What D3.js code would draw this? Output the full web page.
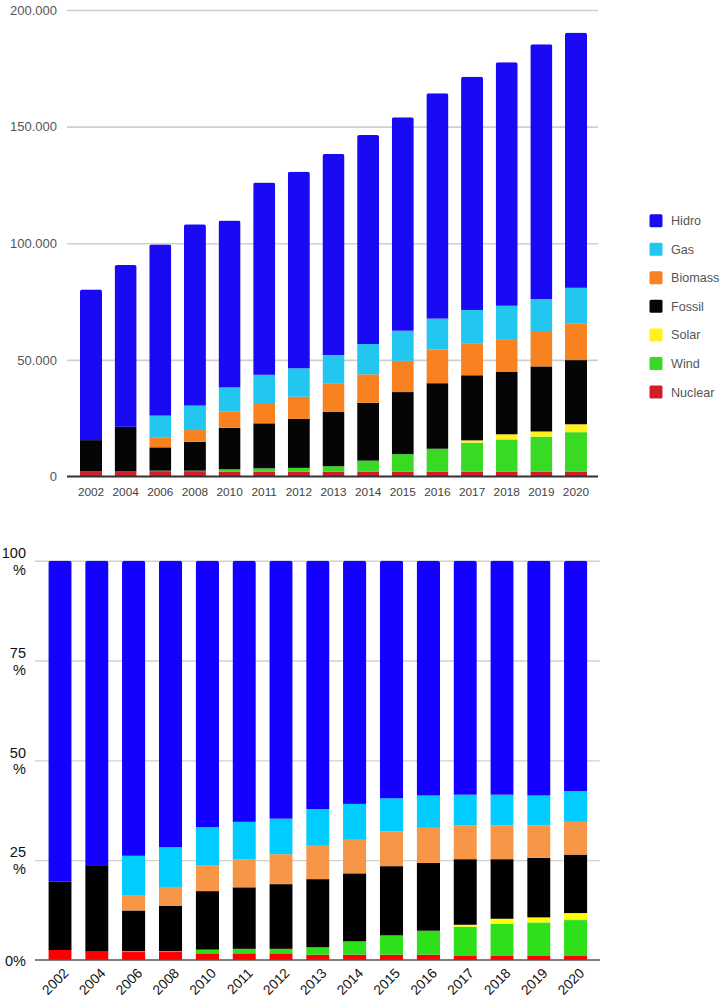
<!DOCTYPE html>
<html>
<head>
<meta charset="utf-8">
<script src="https://cdn.jsdelivr.net/npm/d3@7/dist/d3.min.js"></script>
<style>
  html, body { margin: 0; padding: 0; background: #fff; }
  svg { display: block; font-family: "Liberation Sans", Arial, Helvetica, sans-serif; }
</style>
</head>
<body>
<svg id="chart" width="724" height="1000"></svg>
<script>
// ---------- DATA ----------
const years = ["2002","2004","2006","2008","2010","2011","2012","2013","2014","2015","2016","2017","2018","2019","2020"];
const seriesNames = ["Nuclear","Wind","Solar","Fossil","Biomass","Gas","Hidro"]; // stack order bottom -> top
const legendOrder = ["Hidro","Gas","Biomass","Fossil","Solar","Wind","Nuclear"];

// Top chart: absolute generation
const nuclearTop = [2300,2300,2300,2300,2000,2000,2000,2000,2000,2000,2000,2000,2000,2000,2000];
const windTop    = [0,0,200,200,1100,1500,1700,2400,4800,7600,9900,12500,13900,15100,17000];
const solarTop   = [0,0,0,0,0,0,0,0,0,0,0,1000,2200,2200,3400];
const fossilTop  = [13300,19000,10000,12400,17800,19300,21000,23400,24800,26600,28100,27900,26700,27900,27500];
const biomassTop = [0,0,4100,5000,6900,8700,9500,12200,12200,13400,14500,13500,14100,15200,15800];
const gasTop     = [0,0,9500,10500,10400,12100,12200,12100,13000,12900,13200,14500,14300,13700,15200];
const hidroTop   = [64600,69400,73400,77700,71500,82400,84300,86200,89600,91500,96600,100000,104400,109200,109400];
const topTicks   = [0,50000,100000,150000,200000];

// Bottom chart: share (%)
const nuclearPct = [2.5,2.25,2.0,2.0,1.67,1.67,1.67,1.33,1.33,1.33,1.33,1.0,1.0,1.0,1.0];
const windPct    = [0,0,0.25,0.25,0.93,1.13,1.13,1.87,3.34,4.84,6.0,7.33,8.1,8.4,9.0];
const solarPct   = [0,0,0,0,0,0,0,0,0,0,0,0.5,1.23,1.27,1.75];
const fossilPct  = [17.1,21.5,10.15,11.35,14.65,15.4,16.2,17.05,17.03,17.33,16.97,16.42,14.92,14.93,14.65];
const biomassPct = [0,0,3.85,4.7,6.5,7.05,7.5,8.35,8.4,8.7,8.8,8.45,8.45,8.1,8.2];
const gasPct     = [0,0,9.85,9.95,9.55,9.35,8.9,9.2,9.0,8.3,8.1,7.7,7.7,7.5,7.7];
const hidroPct   = [80.4,76.25,73.9,71.75,66.7,65.4,64.6,62.2,60.9,59.5,58.8,58.6,58.6,58.8,57.7];
const pctTicks   = [0,25,50,75,100];

// ---------- STYLE ----------
const topColors = {Hidro:"#1a0af4", Gas:"#22c6ef", Biomass:"#f7821f", Fossil:"#050505", Solar:"#fff21a", Wind:"#38da24", Nuclear:"#d01d2a"};
const botColors = {Hidro:"#1400ff", Gas:"#00ccff", Biomass:"#f79646", Fossil:"#000000", Solar:"#ffff00", Wind:"#2de01a", Nuclear:"#ff0000"};

const svg = d3.select("#chart");
const defs = svg.append("defs");

function buildRows(arrs) {
  return years.map((yr, i) => {
    const r = {year: yr};
    seriesNames.forEach(s => r[s] = arrs[s][i]);
    return r;
  });
}

// ================= TOP CHART =================
(function(){
  const rows = buildRows({Nuclear:nuclearTop, Wind:windTop, Solar:solarTop, Fossil:fossilTop, Biomass:biomassTop, Gas:gasTop, Hidro:hidroTop});
  const gridL = 67, gridR = 598, base = 476.5, topY = 10;
  const x = d3.scaleBand().domain(years).range([73.68, 593.32]).paddingInner(0.365).paddingOuter(0.1825);
  const y = d3.scaleLinear().domain([0, 200000]).range([base, topY]);
  const loc = d3.formatLocale({decimal: ",", thousands: ".", grouping: [3], currency: ["", ""]});
  const fmt = loc.format(",d");

  const g = svg.append("g");
  const ya = g.append("g").attr("transform", `translate(${gridL},0)`)
    .call(d3.axisLeft(y).tickValues(topTicks).tickFormat(fmt).tickSize(-(gridR - gridL)).tickPadding(10));
  ya.select(".domain").remove();
  ya.selectAll(".tick line").attr("stroke", "#cfcfcf").attr("stroke-width", 1.6)
    .filter(d => d === 0).remove();
  ya.selectAll(".tick text").attr("fill", "#555").attr("font-size", 13).attr("font-family", "Liberation Sans, Arial, sans-serif");

  const stack = d3.stack().keys(seriesNames)(rows);
  rows.forEach((r, i) => {
    const tot = seriesNames.reduce((a, s) => a + r[s], 0);
    defs.append("clipPath").attr("id", "ct" + i).append("rect")
      .attr("x", x(r.year)).attr("y", y(tot)).attr("width", x.bandwidth())
      .attr("height", base + 6 - y(tot)).attr("rx", 2.2);
  });
  const barsG = g.append("g");
  years.forEach((yr, i) => {
    const bg = barsG.append("g").attr("clip-path", `url(#ct${i})`);
    stack.forEach(layer => {
      const d = layer[i];
      if (d[1] - d[0] <= 0) return;
      bg.append("rect").attr("x", x(yr)).attr("width", x.bandwidth())
        .attr("y", y(d[1])).attr("height", y(d[0]) - y(d[1]))
        .attr("fill", topColors[layer.key]);
    });
  });

  g.append("line").attr("x1", gridL).attr("x2", gridR).attr("y1", base).attr("y2", base)
    .attr("stroke", "#333").attr("stroke-width", 2);
  const xa = g.append("g").attr("transform", `translate(0,${base})`)
    .call(d3.axisBottom(x).tickSize(0).tickPadding(11.5));
  xa.select(".domain").remove();
  xa.selectAll(".tick text").attr("fill", "#444").attr("font-size", 11.8).attr("font-family", "Liberation Sans, Arial, sans-serif");

  const lg = g.append("g");
  legendOrder.forEach((s, i) => {
    const cy = 220.7 + i * 28.55;
    lg.append("rect").attr("x", 649.5).attr("y", cy - 6.5).attr("width", 13).attr("height", 13)
      .attr("rx", 1.5).attr("fill", topColors[s]);
    lg.append("text").attr("x", 671).attr("y", cy).attr("dy", "0.36em")
      .attr("font-size", 12.6).attr("fill", "#555").text(s);
  });
})();

// ================= BOTTOM CHART =================
(function(){
  const rows = buildRows({Nuclear:nuclearPct, Wind:windPct, Solar:solarPct, Fossil:fossilPct, Biomass:biomassPct, Gas:gasPct, Hidro:hidroPct});
  const gridL = 35, gridR = 600, base = 960, topY = 560.7;
  const x = d3.scaleBand().domain(years).range([41.6, 594.1]).paddingInner(0.367).paddingOuter(0.1835);
  const y = d3.scaleLinear().domain([0, 100]).range([base, topY]);

  const g = svg.append("g");
  const ya = g.append("g").attr("transform", `translate(${gridL},0)`)
    .call(d3.axisLeft(y).tickValues(pctTicks).tickSize(-(gridR - gridL)).tickPadding(9));
  ya.select(".domain").remove();
  ya.selectAll(".tick line").attr("stroke", "#d0d0d0").attr("stroke-width", 1.4)
    .filter(d => d === 0).remove();
  ya.selectAll(".tick text").each(function(d) {
    const t = d3.select(this);
    t.text(null).attr("fill", "#111").attr("font-size", 14.5).attr("dy", null)
      .attr("font-family", "Liberation Sans, Arial, sans-serif");
    if (d === 0) {
      t.append("tspan").attr("x", -9).attr("dy", "0.36em").text("0%");
    } else {
      t.append("tspan").attr("x", -9).attr("dy", "-0.22em").text(String(d));
      t.append("tspan").attr("x", -9).attr("dy", "1.15em").text("%");
    }
  });

  const stack = d3.stack().keys(seriesNames)(rows);
  rows.forEach((r, i) => {
    const tot = seriesNames.reduce((a, s) => a + r[s], 0);
    defs.append("clipPath").attr("id", "cb" + i).append("rect")
      .attr("x", x(r.year)).attr("y", y(tot)).attr("width", x.bandwidth())
      .attr("height", base + 6 - y(tot)).attr("rx", 2.5);
  });
  const barsG = g.append("g");
  years.forEach((yr, i) => {
    const bg = barsG.append("g").attr("clip-path", `url(#cb${i})`);
    stack.forEach(layer => {
      const d = layer[i];
      if (d[1] - d[0] <= 0) return;
      bg.append("rect").attr("x", x(yr)).attr("width", x.bandwidth())
        .attr("y", y(d[1])).attr("height", y(d[0]) - y(d[1]))
        .attr("fill", botColors[layer.key]);
    });
  });

  g.append("line").attr("x1", gridL).attr("x2", gridR).attr("y1", base).attr("y2", base)
    .attr("stroke", "#555").attr("stroke-width", 1.5);

  const xa = g.append("g").attr("transform", `translate(0,${base})`)
    .call(d3.axisBottom(x).tickSize(0));
  xa.select(".domain").remove();
  xa.selectAll(".tick text")
    .attr("y", 0).attr("dy", 0)
    .attr("text-anchor", "end")
    .attr("transform", "translate(9.5,14) rotate(-45)")
    .attr("fill", "#111").attr("font-size", 13.8)
    .attr("font-family", "Liberation Sans, Arial, sans-serif");
})();
</script>
</body>
</html>
